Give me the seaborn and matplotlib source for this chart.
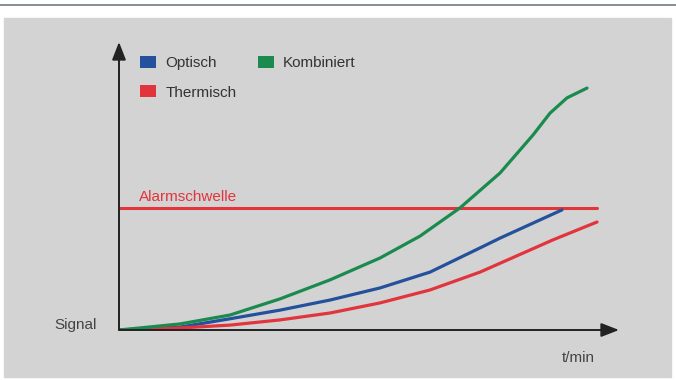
import pandas as pd
import seaborn as sns
import matplotlib.pyplot as plt
from matplotlib.patches import Patch, Rectangle
from matplotlib.lines import Line2D

# values (t in arbitrary units 0..100, signal 0..100)
t_kombiniert = [0, 12.2, 22.2, 32.2, 42.2, 52.2, 60.2, 68.2, 76.2, 82.8, 86.2, 89.6, 93.6]
s_kombiniert = [0, 2.1, 5.2, 10.8, 17.4, 25.0, 32.6, 42.4, 54.5, 67.7, 75.3, 80.6, 84.0]

t_optisch = [0, 12.2, 22.2, 32.2, 42.2, 52.2, 62.2, 72.2, 76.2, 88.6]
s_optisch = [0, 1.0, 3.9, 6.9, 10.4, 14.6, 20.1, 28.5, 31.9, 41.7]

t_thermisch = [0, 12.2, 22.2, 32.2, 42.2, 52.2, 62.2, 72.2, 86.8, 95.6]
s_thermisch = [0, 0.7, 1.7, 3.5, 5.9, 9.4, 13.9, 20.1, 31.3, 37.5]

alarm_level = 42.4
alarm_end = 95.6

series_names = ['Optisch', 'Thermisch', 'Kombiniert']
colors = {'Optisch': '#24509c', 'Thermisch': '#e2343c', 'Kombiniert': '#1b8a4e'}

sns.set_theme(style='white')
plt.rcParams['font.family'] = ['Liberation Sans', 'DejaVu Sans']

frames = []
for name, t, s in [('Optisch', t_optisch, s_optisch),
                   ('Thermisch', t_thermisch, s_thermisch),
                   ('Kombiniert', t_kombiniert, s_kombiniert)]:
    frames.append(pd.DataFrame({'t': t, 'signal': s, 'sensor': name}))
data = pd.concat(frames, ignore_index=True)

fig = plt.figure(figsize=(6.76, 3.8), dpi=100, facecolor='white')

# grey panel and thin rule on top
fig.patches.append(Rectangle((4 / 676, 1 - 377 / 380), 667 / 676, 359 / 380,
                             transform=fig.transFigure, color='#d3d3d3', zorder=-2))
fig.lines.append(Line2D([0, 1], [1 - 5 / 380, 1 - 5 / 380], transform=fig.transFigure,
                        color='#7d868e', lw=1.3, zorder=-2))

ax = fig.add_axes([119 / 676, 50 / 380, 500 / 676, 288 / 380])
ax.set_zorder(2)
ax.set_facecolor('none')
for sp in ax.spines.values():
    sp.set_visible(False)

# alarm threshold
ax.plot([0, alarm_end], [alarm_level, alarm_level], color='#e2343c', lw=2.2, zorder=2)
ax.text(4, alarm_level + 1.5, 'Alarmschwelle', color='#e2343c', fontsize=11,
        ha='left', va='bottom')

sns.lineplot(data=data, x='t', y='signal', hue='sensor', palette=colors,
             sort=False, estimator=None, legend=False, lw=2.3, ax=ax, zorder=3,
             solid_joinstyle='round', solid_capstyle='round')
ax.set_xlim(0, 100)
ax.set_ylim(0, 100)
ax.set_xticks([])
ax.set_yticks([])
ax.set_xlabel('')
ax.set_ylabel('')

# axis arrows
arrow = dict(arrowstyle='-|>,head_length=0.9,head_width=0.35', color='#222222',
             lw=1.4, shrinkA=0, shrinkB=0)
ax.annotate('', xy=(0, 1), xytext=(0, 0), xycoords='axes fraction', arrowprops=arrow)
ax.annotate('', xy=(1, 0), xytext=(0, 0), xycoords='axes fraction', arrowprops=arrow)

fig.text(97 / 676, 1 - 325 / 380, 'Signal', ha='right', va='center',
         fontsize=11, color='#444444')
fig.text(578 / 676, 1 - 358 / 380, 't/min', ha='center', va='center',
         fontsize=11, color='#444444')

handles = [Patch(facecolor=colors[n], edgecolor='none') for n in series_names]
fig.legend(handles, series_names, loc='upper left',
           bbox_to_anchor=(140 / 676, 1 - 56 / 380), ncol=2, frameon=False,
           fontsize=11, handlelength=1.05, handleheight=0.8, handletextpad=0.6,
           columnspacing=1.4, labelspacing=1.0, borderpad=0, borderaxespad=0,
           labelcolor='#333333')

fig.savefig('out.png', dpi=100, facecolor='white')
